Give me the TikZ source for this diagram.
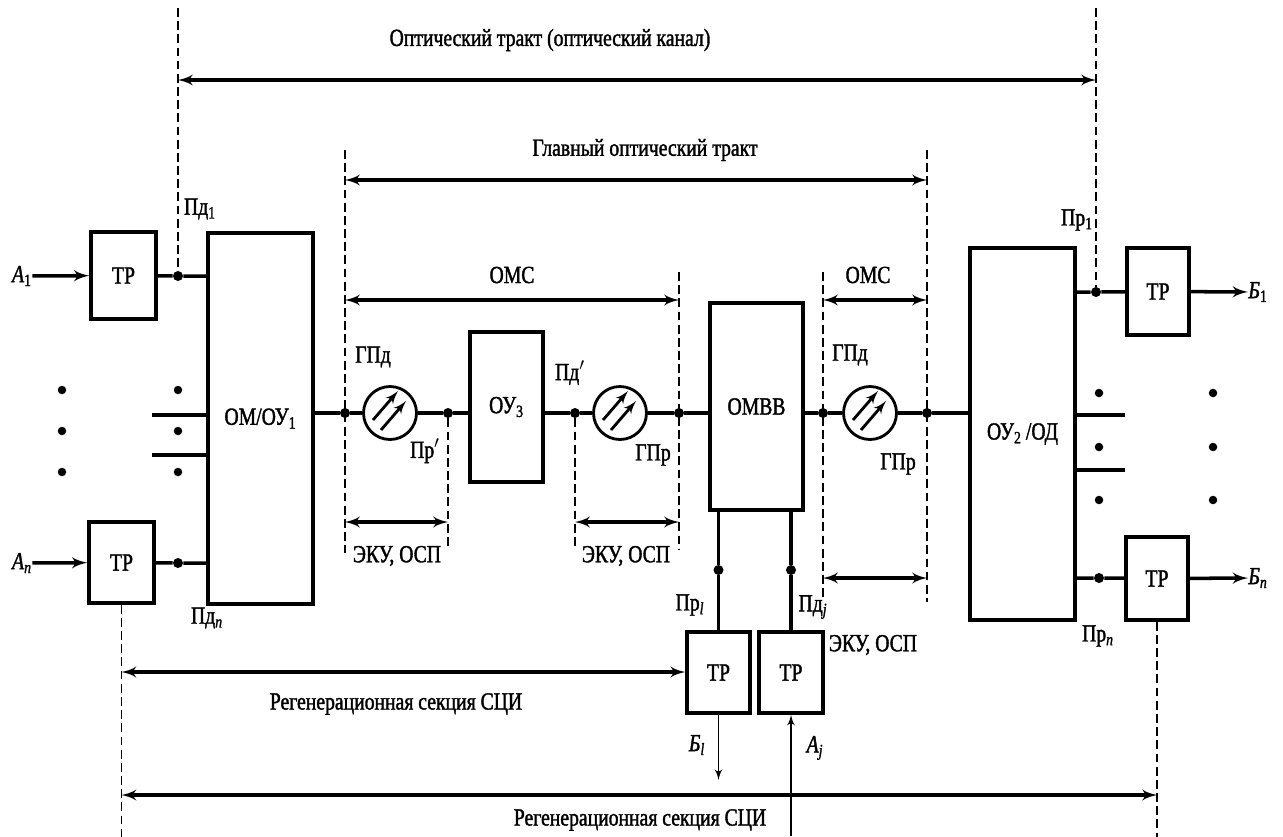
\documentclass[tikz,border=0pt]{standalone}
\usepackage{fontspec}
\setmainfont{Liberation Serif}[FakeStretch=0.8, FakeBold=1.5]
\usepackage{tikz}
\usetikzlibrary{positioning}
\usetikzlibrary{arrows}

\begin{document}
\begin{tikzpicture}[x=0.02cm, y=-0.02cm, >=latex', font=\fontsize{14}{16}\selectfont,
	box/.style={draw=black, line width=2pt, rectangle, inner sep=0pt},
	dot/.style={circle, fill=black, inner sep=0pt, minimum size=0.2cm},
	fiber/.style={draw=black, line width=1.6pt, circle, fill=white, minimum size=1.06cm, inner sep=0pt},
	wire/.style={line width=2pt},
	size/.style={<->, line width=1.9pt},
	border/.style={line width=0.8pt, dash pattern=on 5pt off 2.5pt},
	txt/.style={inner sep=0pt}]

  \useasboundingbox (0,0) rectangle (1283,836);

  % inputs
  \node[box, minimum width=1.3cm, minimum height=1.74cm] (tr1) at (123.5,275.5) {ТР};
  \node[box, minimum width=1.3cm, minimum height=1.62cm] (trn) at (121.5,562.5) {ТР};
  \node[box, minimum width=2.1cm, minimum height=7.42cm] (om) at (260.5,418.5) {ОМ/ОУ\textsubscript{1}};
  \node[txt] (a1) at (22,276) {\textit{A}\textsubscript{1}};
  \node[txt] (an) at (22,563) {\textit{A}\textsubscript{\textit{n}}};
  \node[dot] (pd1) at (178,276) {};
  \node[dot] (pdn) at (178,563) {};
  \node[txt] (pd1 label) at (200,209) {Пд\textsubscript{1}};
  \node[txt] (pdn label) at (207,618) {Пд\textsubscript{\textit{n}}};

  % main optical path
  \foreach \x/\n in {345/p1, 448/p2, 575/p3, 679/p4, 823/p5, 927/p6}
    \node[dot] (\n) at (\x,413) {};
  \node[fiber] (f1) at (390,413) {};
  \node[fiber] (f2) at (620,413) {};
  \node[fiber] (f3) at (870,413) {};
  \node[box, minimum width=1.46cm, minimum height=3cm] (ou3) at (506.5,407) {ОУ\textsubscript{3}};
  \node[box, minimum width=1.86cm, minimum height=4.14cm] (ombb) at (756.5,406.5) {ОМВВ};
  \node[box, minimum width=2.1cm, minimum height=7.44cm] (ou2) at (1022.5,434) {ОУ\textsubscript{2}\,/ОД};

  \node[txt] (gpd1) at (373,357) {ГПд};
  \node[txt] (pr') at (425,451) {Пр$'$};
  \node[txt] (pd') at (570,373) {Пд$'$};
  \node[txt] (gpr2) at (653,455) {ГПр};
  \node[txt] (gpd3) at (850,355) {ГПд};
  \node[txt] (gpr3) at (898,464) {ГПр};

  % outputs
  \node[dot] (pr1) at (1096,292) {};
  \node[dot] (prn) at (1099,578) {};
  \node[box, minimum width=1.24cm, minimum height=1.74cm] (tro1) at (1158,291.5) {ТР};
  \node[box, minimum width=1.24cm, minimum height=1.66cm] (tron) at (1157,578.5) {ТР};
  \node[txt] (b1) at (1258,292) {\textit{Б}\textsubscript{1}};
  \node[txt] (bn) at (1258,578) {\textit{Б}\textsubscript{\textit{n}}};
  \node[txt] (pr1 label) at (1077,220) {Пр\textsubscript{1}};
  \node[txt] (prn label) at (1098,636) {Пр\textsubscript{\textit{n}}};

  % drop and insert
  \node[box, minimum width=1.26cm, minimum height=1.62cm] (trl) at (718.5,672.5) {ТР};
  \node[box, minimum width=1.28cm, minimum height=1.62cm] (trj) at (791,672.5) {ТР};
  \node[dot] (prl) at (718.5,570) {};
  \node[dot] (pdj) at (791,570) {};
  \node[txt] (prl label) at (690,605) {Пр\textsubscript{\textit{l}}};
  \node[txt] (pdj label) at (813,607) {Пд\textsubscript{\textit{j}}};
  \node[txt] (bl) at (697,745) {\textit{Б}\textsubscript{\textit{l}}};
  \node[txt] (aj) at (815,748) {\textit{A}\textsubscript{\textit{j}}};
  \coordinate (bl end) at (718.5,780);
  \coordinate (aj end) at (791,836);

  % side dots
  \foreach \y in {390,431,472} {
    \node[dot, minimum size=0.17cm] (la\y) at (62,\y) {};
    \node[dot, minimum size=0.17cm] (lb\y) at (178,\y) {};
  }
  \foreach \y in {393,447,500} {
    \node[dot, minimum size=0.17cm] (ra\y) at (1099,\y) {};
    \node[dot, minimum size=0.17cm] (rb\y) at (1213,\y) {};
  }
  \coordinate (s1) at (152,415);
  \coordinate (s2) at (152,455);
  \coordinate (s3) at (1125,415);
  \coordinate (s4) at (1125,470);

  % wires
  \draw[wire, ->] (a1) -- (tr1);
  \draw[wire, ->] (an) -- (trn);
  \draw[wire] (tr1) -- (pd1) -- (pd1 -| om.west);
  \draw[wire] (trn) -- (pdn) -- (pdn -| om.west);
  \draw[wire] (s1) -- (s1 -| om.west);
  \draw[wire] (s2) -- (s2 -| om.west);
  \draw[wire] (p1 -| om.east) -- (p1) -- (f1) -- (p2) -- (p2 -| ou3.west);
  \draw[wire] (p3 -| ou3.east) -- (p3) -- (f2) -- (p4) -- (p4 -| ombb.west);
  \draw[wire] (p5 -| ombb.east) -- (p5) -- (f3) -- (p6) -- (p6 -| ou2.west);
  \draw[wire] (pr1 -| ou2.east) -- (pr1) -- (tro1);
  \draw[wire] (prn -| ou2.east) -- (prn) -- (tron);
  \draw[wire] (s3 -| ou2.east) -- (s3);
  \draw[wire] (s4 -| ou2.east) -- (s4);
  \draw[wire, ->] (tro1) -- (b1);
  \draw[wire, ->] (tron) -- (bn);
  \draw[wire] (prl |- ombb.south) -- (prl) -- (trl);
  \draw[wire] (pdj |- ombb.south) -- (pdj) -- (trj);
  \draw[line width=1.1pt, ->] (trl) -- (bl end);
  \draw[line width=1.1pt, ->] (aj end) -- (trj);

  % fibre arrows
  \foreach \f in {f1,f2,f3} {
    \draw[line width=1.6pt, ->] ([shift={(-17,7)}]\f.center) -- ([shift={(8,-22)}]\f.center);
    \draw[line width=1.6pt, ->] ([shift={(-9,17)}]\f.center) -- ([shift={(16,-12)}]\f.center);
  }

  % borders of sections
  \coordinate (t1) at (178,8);
  \coordinate (t2) at (1096,8);
  \coordinate (u1) at (345,150);
  \coordinate (u2) at (927,150);
  \coordinate (v1) at (679,272);
  \coordinate (v2) at (823,272);
  \draw[border] (t1) -- (pd1);
  \draw[border] (t2) -- (pr1);
  \draw[border] (u1) -- ++(0,403);
  \draw[border] (u2) -- ++(0,452);
  \draw[border] (v1) -- ++(0,278);
  \draw[border] (v2) -- ++(0,326);
  \draw[border] (p2) -- ++(0,137);
  \draw[border] (p3) -- ++(0,137);
  \draw[border] (trn.south) -- ++(0,240);
  \draw[border] (tron.south) -- ++(0,240);

  % dimension arrows
  \coordinate (k1) at (178,80);
  \coordinate (m1) at (345,180);
  \coordinate (o1) at (345,300);
  \coordinate (o2) at (823,300);
  \coordinate (e1) at (345,522);
  \coordinate (e2) at (575,522);
  \coordinate (e3) at (823,578);
  \coordinate (r1) at (121.5,672);
  \coordinate (r2) at (121.5,795);
  \draw[size] (k1) -- (k1 -| t2);
  \draw[size] (m1) -- (m1 -| u2);
  \draw[size] (o1) -- (o1 -| v1);
  \draw[size] (o2) -- (o2 -| u2);
  \draw[size] (e1) -- (e1 -| p2);
  \draw[size] (e2) -- (e2 -| v1);
  \draw[size] (e3) -- (e3 -| u2);
  \draw[size] (r1) -- (r1 -| trl.west);
  \draw[size] (r2) -- (r2 -| tron.south);

  \node[txt] (tract) at (550,40) {Оптический тракт (оптический канал)};
  \node[txt] (main tract) at (645,150) {Главный оптический тракт};
  \node[txt] (oms1) at (512,275) {ОМС};
  \node[txt] (oms2) at (868,275) {ОМС};
  \node[txt] (eku1) at (397,556) {ЭКУ, ОСП};
  \node[txt] (eku2) at (626,556) {ЭКУ, ОСП};
  \node[txt] (eku3) at (873,645) {ЭКУ, ОСП};
  \node[txt] (reg1) at (396,704) {Регенерационная секция СЦИ};
  \node[txt] (reg2) at (640,820) {Регенерационная секция СЦИ};
\end{tikzpicture}
\end{document}
